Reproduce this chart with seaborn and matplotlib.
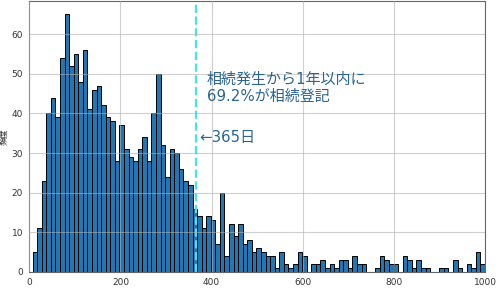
import numpy as np
import pandas as pd
import seaborn as sns
import matplotlib
matplotlib.use("Agg")
import matplotlib.pyplot as plt

# histogram counts (99 bins spanning ~7..1000 days)
counts = [5, 11, 23, 40, 44, 39, 54, 65, 52, 55,
          48, 56, 41, 46, 47, 42, 39, 38, 28, 37,
          31, 29, 28, 31, 34, 28, 40, 50, 32, 24,
          31, 30, 26, 23, 22, 16, 14, 11, 14, 13,
          7, 20, 4, 12, 9, 12, 7, 8, 5, 6,
          5, 4, 4, 1, 5, 2, 1, 2, 5, 4,
          0, 2, 2, 3, 1, 2, 1, 3, 3, 1,
          4, 2, 2, 0, 0, 1, 4, 3, 2, 2,
          0, 4, 3, 1, 3, 1, 1, 0, 0, 1,
          1, 0, 3, 1, 0, 2, 1, 5, 2]
range_min = 7
range_max = 1000
threshold_days = 365
xticks = [0, 200, 400, 600, 800, 1000]
yticks = [0, 10, 20, 30, 40, 50, 60]
ylabel = "頻度"
note = "相続発生から1年以内に\n69.2%が相続登記"
line_label = "←365日"

edges = np.linspace(range_min, range_max, len(counts) + 1)
centers = (edges[:-1] + edges[1:]) / 2
df = pd.DataFrame({"days": centers, "n": np.array(counts, dtype=float)})

sns.set_style("white")
plt.rcParams['font.family'] = ['Noto Sans CJK JP', 'DejaVu Sans']

fig = plt.figure(figsize=(5, 2.88), dpi=100)
ax = fig.add_axes([0.0587, 0.0556, 0.9113, 0.9394])

sns.histplot(data=df, x="days", weights="n", bins=len(counts),
             binrange=(range_min, range_max), ax=ax,
             color="#1f77b4", edgecolor="black", linewidth=0.7, alpha=1.0)

txt_family = ['DejaVu Sans', 'Noto Sans CJK JP']
ax.axvline(threshold_days, color="#44e4ee", linestyle="--", linewidth=1.6)
ax.text(390, 50.6, note, color="#2a6592", fontsize=10.8, va="top", ha="left",
        linespacing=1.2, family=txt_family)
ax.text(372, 34.0, line_label, color="#2a6592", fontsize=10.8, va="center",
        ha="left", family=txt_family)

ax.set_xlim(0, 1000)
ax.set_ylim(0, 68.25)
ax.set_xticks(xticks)
ax.set_yticks(yticks)
ax.set_xlabel("")
ax.set_ylabel(ylabel, fontsize=6, labelpad=2)
ax.tick_params(labelsize=6.5, length=3, width=0.6, pad=1.5, colors="#333333")
for lab in ax.get_xticklabels() + ax.get_yticklabels():
    lab.set_family("DejaVu Sans")
ax.grid(True, color="#b0b0b0", linewidth=0.8, alpha=0.6)
ax.set_axisbelow(False)
for s in ax.spines.values():
    s.set_color("#666666")
    s.set_linewidth(0.8)

fig.savefig("out.png", dpi=100)
